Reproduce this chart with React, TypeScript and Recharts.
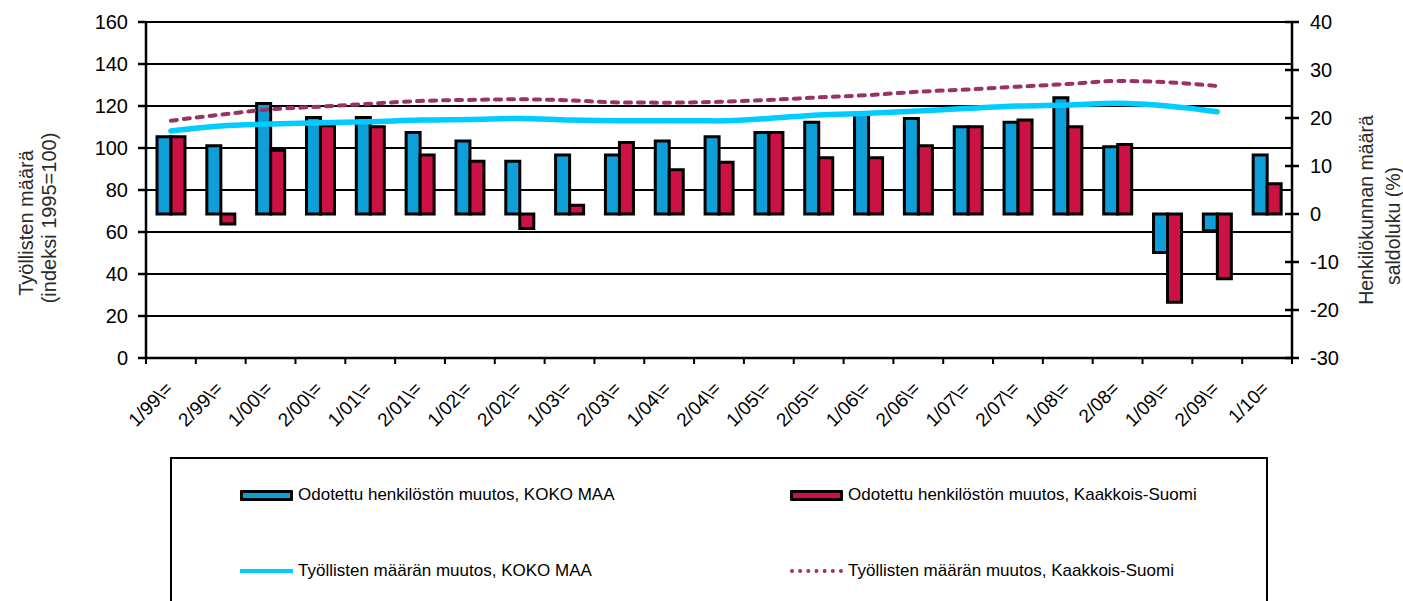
import { ComposedChart, Bar, Line, XAxis, YAxis, CartesianGrid, Legend } from 'recharts';

const categories = [
  "1/99\\=", "2/99\\=", "1/00\\=", "2/00\\=", "1/01\\=", "2/01\\=", "1/02\\=", "2/02\\=",
  "1/03\\=", "2/03\\=", "1/04\\=", "2/04\\=", "1/05\\=", "2/05\\=", "1/06\\=", "2/06\\=",
  "1/07\\=", "2/07\\=", "1/08\\=", "2/08=", "1/09\\=", "2/09\\=", "1/10=",
];

// saldoluku (%), right axis
const henkilostoKokoMaa = [16.1, 14.2, 23, 20.1, 20.1, 17, 15.2, 11, 12.3, 12.3, 15.2, 16.1, 17, 19.1, 20.8, 19.9, 18.2, 19.1, 24.2, 14, -8, -3.5, 12.3];
const henkilostoKaakkois = [16.1, -2.1, 13.3, 18.4, 18.2, 12.3, 11, -3, 1.8, 14.9, 9.2, 10.8, 17, 11.7, 11.7, 14.2, 18.2, 19.6, 18.2, 14.5, -18.4, -13.5, 6.3];

// indeksi 1995=100, left axis
const tyollisetKokoMaa = [108.1, 110.5, 111.4, 112, 112.5, 113.3, 113.6, 114.1, 113.3, 113, 113, 112.9, 114.1, 115.7, 116.5, 117.6, 118.9, 120, 120.5, 121.3, 120, 117.3, null];
const tyollisetKaakkois = [113, 115.9, 118.4, 119.7, 121.1, 122.4, 122.9, 123.2, 122.7, 121.7, 121.6, 122, 122.9, 124.1, 125.2, 126.8, 127.9, 129.2, 130.5, 131.9, 131.3, 129.5, null];

const leftTicks = [0, 20, 40, 60, 80, 100, 120, 140, 160];
const rightTicks = [-30, -20, -10, 0, 10, 20, 30, 40];

const BLUE = "#0f9fd8";
const RED = "#cc1144";
const CYAN = "#00ccff";
const PLUM = "#993366";
const FONT = "'Liberation Sans', Arial, sans-serif";

const PLOT_LEFT = 146;
const PLOT_RIGHT = 1292;
const BAND = (PLOT_RIGHT - PLOT_LEFT) / categories.length;

const data = categories.map((name, i) => ({
  name,
  hKoko: henkilostoKokoMaa[i],
  hKaak: henkilostoKaakkois[i],
  tKoko: tyollisetKokoMaa[i],
  tKaak: tyollisetKaakkois[i],
}));

const legendItems = [
  { label: "Odotettu henkilöstön muutos, KOKO MAA", kind: "bar", color: BLUE },
  { label: "Odotettu henkilöstön muutos, Kaakkois-Suomi", kind: "bar", color: RED },
  { label: "Työllisten määrän muutos, KOKO MAA", kind: "line", color: CYAN },
  { label: "Työllisten määrän muutos, Kaakkois-Suomi", kind: "dash", color: PLUM },
];

function XTick(props: any) {
  const { x, y, payload, index } = props;
  const tx = x + 3;
  const ty = y + 32;
  return (
    <g>
      <line x1={x - BAND / 2} x2={x - BAND / 2} y1={y} y2={y + 6} stroke="#000" strokeWidth={2} />
      {index === categories.length - 1 && (
        <line x1={x + BAND / 2} x2={x + BAND / 2} y1={y} y2={y + 6} stroke="#000" strokeWidth={2} />
      )}
      <text x={tx} y={ty} textAnchor="end" transform={`rotate(-45, ${tx}, ${ty})`} fontSize={19} fontFamily={FONT} fill="#000">
        {payload.value}
      </text>
    </g>
  );
}

function RightTick(props: any) {
  const { x, y, payload } = props;
  return (
    <g>
      <line x1={x - 7} x2={x + 7} y1={y} y2={y} stroke="#000" strokeWidth={2.5} />
      <text x={x + 18} y={y} dy="0.36em" textAnchor="start" fontSize={20} fontFamily={FONT} fill="#000">
        {payload.value}
      </text>
    </g>
  );
}

function LeftTitle() {
  return (
    <g fontFamily={FONT} fontSize={20} fill="#2a2a2a" textAnchor="middle" dominantBaseline="central">
      <text x={26} y={223} transform="rotate(-90, 26, 223)">Työllisten määrä</text>
      <text x={49} y={218} transform="rotate(-90, 49, 218)">(indeksi 1995=100)</text>
    </g>
  );
}

function RightTitle() {
  return (
    <g fontFamily={FONT} fontSize={19.5} fill="#2a2a2a" textAnchor="middle" dominantBaseline="central">
      <text x={1366} y={210} transform="rotate(-90, 1366, 210)">Henkilökunnan määrä</text>
      <text x={1393} y={226} transform="rotate(-90, 1393, 226)">saldoluku (%)</text>
    </g>
  );
}

function LegendSymbol({ kind, color }: { kind: string; color: string }) {
  if (kind === "bar") {
    return <div style={{ width: 47, height: 5, background: color, border: "3px solid #000", borderRadius: 1 }} />;
  }
  if (kind === "line") {
    return <div style={{ width: 53, height: 4, background: color }} />;
  }
  return <div style={{ width: 53, height: 0, borderTop: `4px dotted ${color}` }} />;
}

function renderLegend() {
  return (
    <div style={{ position: "relative", width: "100%", height: "100%" }}>
      {legendItems.map((item, i) => (
        <div
          key={item.label}
          style={{
            position: "absolute",
            left: i % 2 === 0 ? 68 : 618,
            top: i < 2 ? 24 : 100,
            height: 24,
            display: "flex",
            alignItems: "center",
            fontFamily: FONT,
            fontSize: 17,
            color: "#000",
            whiteSpace: "nowrap",
          }}
        >
          <LegendSymbol kind={item.kind} color={item.color} />
          <span style={{ marginLeft: 5 }}>{item.label}</span>
        </div>
      ))}
    </div>
  );
}

export default function App() {
  return (
    <div style={{ position: "absolute", left: 0, top: 0, width: 1403, height: 601, background: "#fff" }}>
      <ComposedChart
        width={1403}
        height={601}
        data={data}
        margin={{ top: 22, right: 0, bottom: 0, left: 0 }}
        barGap={0}
        barSize={14}
      >
        <CartesianGrid yAxisId="left" vertical={false} stroke="#000" strokeWidth={2} />
        <XAxis
          dataKey="name"
          height={243}
          interval={0}
          tickLine={false}
          tickSize={0}
          tickMargin={0}
          axisLine={{ stroke: "#000", strokeWidth: 2.5 }}
          tick={<XTick />}
        />
        <YAxis
          yAxisId="left"
          orientation="left"
          width={146}
          domain={[0, 160]}
          ticks={leftTicks}
          interval={0}
          tickSize={8}
          tickMargin={10}
          axisLine={{ stroke: "#000", strokeWidth: 2.5 }}
          tickLine={{ stroke: "#000", strokeWidth: 2.5 }}
          tick={{ fontSize: 20, fontFamily: FONT, fill: "#000" }}
          label={<LeftTitle />}
        />
        <YAxis
          yAxisId="right"
          orientation="right"
          width={111}
          domain={[-30, 40]}
          ticks={rightTicks}
          interval={0}
          tickSize={0}
          tickMargin={0}
          tickLine={false}
          axisLine={{ stroke: "#000", strokeWidth: 2.5 }}
          tick={<RightTick />}
          label={<RightTitle />}
        />
        <Bar yAxisId="right" dataKey="hKoko" name={legendItems[0].label} fill={BLUE} stroke="#000" strokeWidth={3} isAnimationActive={false} />
        <Bar yAxisId="right" dataKey="hKaak" name={legendItems[1].label} fill={RED} stroke="#000" strokeWidth={3} isAnimationActive={false} />
        <Line
          yAxisId="left"
          type="monotone"
          dataKey="tKoko"
          name={legendItems[2].label}
          stroke={CYAN}
          strokeWidth={5.5}
          strokeLinecap="round"
          dot={false}
          activeDot={false}
          isAnimationActive={false}
        />
        <Line
          yAxisId="left"
          type="monotone"
          dataKey="tKaak"
          name={legendItems[3].label}
          stroke={PLUM}
          strokeWidth={4}
          strokeDasharray="6 7"
          strokeLinecap="round"
          dot={false}
          activeDot={false}
          isAnimationActive={false}
        />
        <Legend
          layout="horizontal"
          verticalAlign="middle"
          align="center"
          content={renderLegend}
          wrapperStyle={{
            position: "absolute",
            left: 170,
            top: 457,
            width: 1098,
            height: 144,
            border: "2.5px solid #000",
            borderBottom: "none",
            boxSizing: "border-box",
            background: "#fff",
          }}
        />
      </ComposedChart>
    </div>
  );
}
